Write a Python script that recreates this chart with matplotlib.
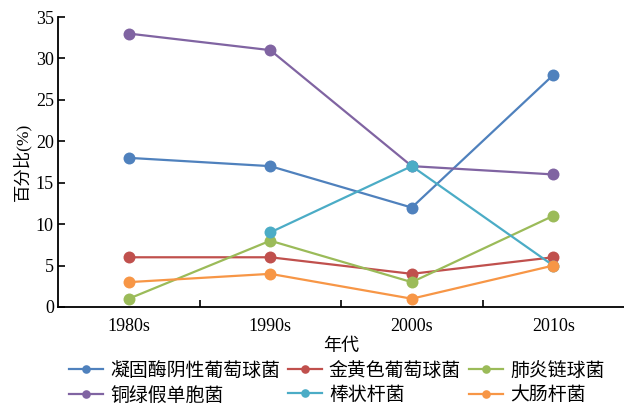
import numpy as np
import matplotlib
matplotlib.use("Agg")
import matplotlib.pyplot as plt

plt.rcParams["font.family"] = ["Liberation Serif", "Noto Sans CJK SC"]

decades = ["1980s", "1990s", "2000s", "2010s"]

cons = [18, 17, 12, 28]          # 凝固酶阴性葡萄球菌
saureus = [6, 6, 4, 6]           # 金黄色葡萄球菌
spneumo = [1, 8, 3, 11]          # 肺炎链球菌
paerug = [33, 31, 17, 16]        # 铜绿假单胞菌
coryne = [np.nan, 9, 17, 5]      # 棒状杆菌
ecoli = [3, 4, 1, 5]             # 大肠杆菌

series = [
    ("凝固酶阴性葡萄球菌", cons, "#4F81BD"),
    ("金黄色葡萄球菌", saureus, "#C0504D"),
    ("肺炎链球菌", spneumo, "#9BBB59"),
    ("铜绿假单胞菌", paerug, "#8064A2"),
    ("棒状杆菌", coryne, "#4BACC6"),
    ("大肠杆菌", ecoli, "#F79646"),
]

fig = plt.figure(figsize=(6.24, 4.05), dpi=100)
ax = fig.add_axes([0.093, 0.242, 0.907, 0.716])

x = np.arange(len(decades))
handles = {}
for name, vals, color in series:
    (h,) = ax.plot(x, vals, color=color, lw=1.6, marker="o", ms=8.6,
                   markeredgewidth=0, label=name, clip_on=False)
    handles[name] = h

ax.set_xlim(-0.5, 3.5)
ax.set_ylim(0, 35)
ax.set_yticks(range(0, 36, 5))
ax.set_xticks(x)
ax.set_xticklabels(decades)
ax.set_xticks([0.5, 1.5, 2.5], minor=True)
ax.tick_params(axis="x", which="major", length=0, labelsize=13, pad=8)
ax.tick_params(axis="x", which="minor", direction="in", length=5, width=1.2)
ax.tick_params(axis="y", direction="in", length=5, width=1.2, labelsize=13, pad=3)
for side in ("top", "right"):
    ax.spines[side].set_visible(False)
for side in ("left", "bottom"):
    ax.spines[side].set_linewidth(1.3)

ax.set_ylabel("百分比(%)", fontsize=12.5, labelpad=3)
ax.set_xlabel("年代", fontsize=13, labelpad=2)

# column-wise fill: blue/purple, red/cyan, green/orange
order = ["凝固酶阴性葡萄球菌", "铜绿假单胞菌", "金黄色葡萄球菌",
         "棒状杆菌", "肺炎链球菌", "大肠杆菌"]
fig.legend([handles[n] for n in order], order, ncol=3, loc="upper left",
           bbox_to_anchor=(0.111, 0.106), frameon=False, fontsize=13.6,
           borderpad=0, borderaxespad=0,
           handlelength=1.8, handletextpad=0.35, columnspacing=0.45,
           labelspacing=0.35, markerscale=0.72)

fig.savefig("out.png", dpi=100)
